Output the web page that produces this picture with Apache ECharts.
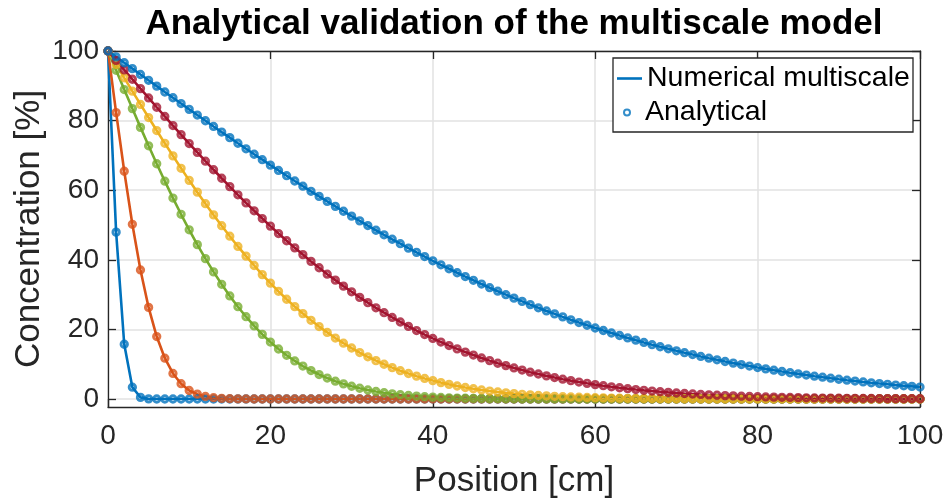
<!DOCTYPE html>
<html><head><meta charset="utf-8">
<script src="https://cdn.jsdelivr.net/npm/echarts@6/dist/echarts.min.js"></script>
<style>html,body{margin:0;padding:0;background:#fff}#c{width:947px;height:504px}</style>
</head><body><div id="c"></div>
<script>
const position = [
  0,1,2,3,4,5,6,7,8,9,
  10,11,12,13,14,15,16,17,18,19,
  20,21,22,23,24,25,26,27,28,29,
  30,31,32,33,34,35,36,37,38,39,
  40,41,42,43,44,45,46,47,48,49,
  50,51,52,53,54,55,56,57,58,59,
  60,61,62,63,64,65,66,67,68,69,
  70,71,72,73,74,75,76,77,78,79,
  80,81,82,83,84,85,86,87,88,89,
  90,91,92,93,94,95,96,97,98,99,
  100];
const xTicks = [0,20,40,60,80,100];
const yTicks = [0,20,40,60,80,100];

const concBlue1 = [
  100,47.95,15.73,3.39,0.47,0.04,0,0,0,0,
  0,0,0,0,0,0,0,0,0,0,
  0,0,0,0,0,0,0,0,0,0,
  0,0,0,0,0,0,0,0,0,0,
  0,0,0,0,0,0,0,0,0,0,
  0,0,0,0,0,0,0,0,0,0,
  0,0,0,0,0,0,0,0,0,0,
  0,0,0,0,0,0,0,0,0,0,
  0,0,0,0,0,0,0,0,0,0,
  0,0,0,0,0,0,0,0,0,0,
  0];
const concOrange = [
  100,82.30,65.44,50.20,37.08,26.32,17.94,11.73,7.34,4.40,
  2.44,1.39,0.73,0.37,0.17,0.08,0.03,0.01,0,0,
  0,0,0,0,0,0,0,0,0,0,
  0,0,0,0,0,0,0,0,0,0,
  0,0,0,0,0,0,0,0,0,0,
  0,0,0,0,0,0,0,0,0,0,
  0,0,0,0,0,0,0,0,0,0,
  0,0,0,0,0,0,0,0,0,0,
  0,0,0,0,0,0,0,0,0,0,
  0,0,0,0,0,0,0,0,0,0,
  0];
const concGreen = [
  100,94.45,88.92,83.45,78.05,72.76,67.60,62.59,57.74,53.08,
  48.62,44.36,40.33,36.53,32.96,29.62,26.52,23.65,21.01,18.58,
  16.37,14.37,12.56,10.93,9.47,8.18,7.03,6.01,5.12,4.35,
  3.67,3.09,2.59,2.16,1.79,1.48,1.22,1.00,0.82,0.66,
  0.54,0.43,0.35,0.28,0.22,0.17,0.14,0.11,0.08,0.06,
  0.05,0.04,0.03,0.02,0.02,0.01,0.01,0.01,0,0,
  0,0,0,0,0,0,0,0,0,0,
  0,0,0,0,0,0,0,0,0,0,
  0,0,0,0,0,0,0,0,0,0,
  0,0,0,0,0,0,0,0,0,0,
  0];
const concYellow = [
  100,96.14,92.29,88.45,84.65,80.88,77.14,73.47,69.86,66.30,
  62.83,59.44,56.13,52.90,49.80,46.78,43.84,41.06,38.36,35.75,
  33.30,30.94,28.67,26.55,24.54,22.61,20.81,19.13,17.52,16.03,
  14.65,13.34,12.13,11.02,9.98,9.01,8.14,7.33,6.57,5.90,
  5.29,4.71,4.20,3.74,3.31,2.94,2.60,2.29,2.01,1.77,
  1.55,1.35,1.18,1.03,0.89,0.78,0.67,0.58,0.50,0.43,
  0.37,0.32,0.27,0.23,0.20,0.17,0.14,0.12,0.10,0.09,
  0.07,0.06,0.05,0.04,0.04,0.03,0.02,0.02,0.02,0.01,
  0.01,0.01,0.01,0.01,0.01,0.01,0,0,0,0,
  0,0,0,0,0,0,0,0,0,0,
  0];
const concRed = [
  100,97.29,94.58,91.88,89.19,86.51,83.84,81.20,78.57,75.98,
  73.40,70.86,68.34,65.87,63.43,61.03,58.67,56.35,54.08,51.85,
  49.68,47.54,45.48,43.43,41.49,39.54,37.71,35.87,34.15,32.43,
  30.81,29.20,27.69,26.21,24.80,23.43,22.13,20.86,19.66,18.51,
  17.41,16.36,15.35,14.40,13.48,12.63,11.80,11.03,10.28,9.60,
  8.92,8.32,7.71,7.18,6.64,6.17,5.70,5.28,4.87,4.50,
  4.14,3.82,3.51,3.23,2.97,2.72,2.49,2.28,2.09,1.90,
  1.74,1.58,1.44,1.31,1.19,1.08,0.98,0.89,0.81,0.72,
  0.66,0.59,0.53,0.48,0.44,0.39,0.35,0.31,0.28,0.25,
  0.23,0.20,0.18,0.16,0.14,0.13,0.11,0.10,0.09,0.08,
  0.07];
const concBlue2 = [
  100,98.31,96.62,94.94,93.25,91.58,89.90,88.22,86.56,84.90,
  83.23,81.60,79.96,78.32,76.70,75.10,73.49,71.90,70.33,68.77,
  67.20,65.68,64.16,62.64,61.15,59.69,58.22,56.77,55.36,53.95,
  52.54,51.19,49.84,48.49,47.18,45.90,44.62,43.35,42.14,40.93,
  39.71,38.56,37.42,36.28,35.18,34.11,33.03,31.98,30.98,29.98,
  28.98,28.05,27.12,26.20,25.31,24.46,23.60,22.76,21.97,21.19,
  20.40,19.68,18.96,18.24,17.56,16.91,16.25,15.61,15.02,14.43,
  13.84,13.30,12.77,12.23,11.73,11.26,10.78,10.31,9.89,9.46,
  9.04,8.65,8.28,7.90,7.54,7.21,6.88,6.55,6.26,5.97,
  5.68,5.41,5.16,4.90,4.66,4.44,4.22,4.00,3.81,3.62,
  3.43];

const curveValues = [concBlue1, concOrange, concGreen, concYellow, concRed, concBlue2];
const curveColors = ['#0072BD', '#D95319', '#77AC30', '#EDB120', '#A2142F', '#0072BD'];

const FONT = "'Liberation Sans', Arial, Helvetica, sans-serif";
const AX = '#262626';
const GRIDC = '#e2e2e2';

const series = [];
curveValues.forEach((vals, i) => {
  const pts = position.map((x, k) => [x, vals[k]]);
  series.push({
    type: 'line', name: i === 0 ? 'Numerical multiscale' : 'Numerical ' + i,
    data: pts, xAxisIndex: 2, yAxisIndex: 2, symbol: 'none',
    lineStyle: { width: 2.6, color: curveColors[i] }, itemStyle: { color: curveColors[i] },
    z: 2 + i * 0.1, animation: false
  });
});
curveValues.forEach((vals, i) => {
  const pts = position.map((x, k) => [x, vals[k]]);
  series.push({
    type: 'scatter', name: i === 0 ? 'Analytical' : 'Analytical ' + i,
    data: pts, xAxisIndex: 2, yAxisIndex: 2, symbol: 'circle', symbolSize: 6.4,
    itemStyle: { color: 'rgba(0,0,0,0)', borderColor: curveColors[i], borderWidth: 2.9 },
    z: 3 + i * 0.1, animation: false, clip: false
  });
});

const chart = echarts.init(document.getElementById('c'), null, { renderer: 'canvas' });
chart.setOption({
  backgroundColor: '#fff',
  animation: false,
  title: {
    text: 'Analytical validation of the multiscale model',
    left: 514, top: 7, textAlign: 'center', padding: 0,
    textStyle: { fontFamily: FONT, fontSize: 35, fontWeight: 'bold', color: '#000' }
  },
  grid: [
    { left: 108, right: 27, top: 51, bottom: 88 },
    { left: 108, right: 27, top: 51, bottom: 105 }
  ],
  xAxis: [
    { gridIndex: 0, type: 'value', min: xTicks[0], max: xTicks[xTicks.length - 1], interval: 20, position: 'bottom',
      axisLine: { show: true, onZero: false, lineStyle: { color: AX, width: 1.3 } },
      axisTick: { show: true, inside: true, length: 8, lineStyle: { color: AX, width: 1.3 } },
      axisLabel: { color: AX, fontSize: 28, fontFamily: FONT, margin: 15 },
      splitLine: { show: true, lineStyle: { color: GRIDC, width: 1.5 } },
      name: 'Position [cm]', nameLocation: 'middle', nameGap: 57,
      nameTextStyle: { fontFamily: FONT, fontSize: 35, color: AX } },
    { gridIndex: 0, type: 'value', min: 0, max: 100, interval: 20, position: 'top',
      axisLine: { show: true, onZero: false, lineStyle: { color: AX, width: 1.3 } },
      axisTick: { show: true, inside: true, length: 8, lineStyle: { color: AX, width: 1.3 } },
      axisLabel: { show: false }, splitLine: { show: false } },
    { gridIndex: 1, type: 'value', min: 0, max: 100, show: false }
  ],
  yAxis: [
    { gridIndex: 0, type: 'value', min: -5, max: 100, position: 'left',
      axisLine: { show: true, onZero: false, lineStyle: { color: AX, width: 1.3 } },
      axisTick: { show: false }, axisLabel: { show: false }, splitLine: { show: false },
      name: 'Concentration [%]', nameLocation: 'middle', nameGap: 61,
      nameTextStyle: { fontFamily: FONT, fontSize: 35, color: AX } },
    { gridIndex: 0, type: 'value', min: -5, max: 100, position: 'right',
      axisLine: { show: true, onZero: false, lineStyle: { color: AX, width: 1.3 } },
      axisTick: { show: false }, axisLabel: { show: false }, splitLine: { show: false } },
    { gridIndex: 1, type: 'value', min: yTicks[0], max: yTicks[yTicks.length - 1], interval: 20, position: 'left',
      axisLine: { show: false, onZero: false },
      axisTick: { show: true, inside: true, length: 8, lineStyle: { color: AX, width: 1.3 } },
      axisLabel: { color: AX, fontSize: 28, fontFamily: FONT, margin: 9 },
      splitLine: { show: true, lineStyle: { color: GRIDC, width: 1.5 } } },
    { gridIndex: 1, type: 'value', min: 0, max: 100, interval: 20, position: 'right',
      axisLine: { show: false, onZero: false },
      axisTick: { show: true, inside: true, length: 8, lineStyle: { color: AX, width: 1.3 } },
      axisLabel: { show: false }, splitLine: { show: false } }
  ],
  graphic: [
    { type: 'rect', z: 10, shape: { x: 613, y: 58, width: 300, height: 74 },
      style: { fill: '#fff', stroke: AX, lineWidth: 1.3 } }
  ],
  legend: [
    { data: [{ name: 'Numerical multiscale', icon: 'rect', itemStyle: { color: '#0072BD' } }],
      left: 617, top: 64, orient: 'vertical', padding: 0, z: 11,
      itemWidth: 25, itemHeight: 2.6, selectedMode: false,
      textStyle: { fontFamily: FONT, fontSize: 28.5, color: '#000' } },
    { data: [{ name: 'Analytical', itemStyle: { color: 'rgba(0,0,0,0)', borderColor: '#0072BD', borderWidth: 2 } }],
      left: 623, top: 98, orient: 'vertical', padding: 0, z: 11,
      itemWidth: 26, itemHeight: 6, selectedMode: false,
      textStyle: { fontFamily: FONT, fontSize: 28.5, color: '#000' } }
  ],
  series: series
});
</script>
</body></html>
